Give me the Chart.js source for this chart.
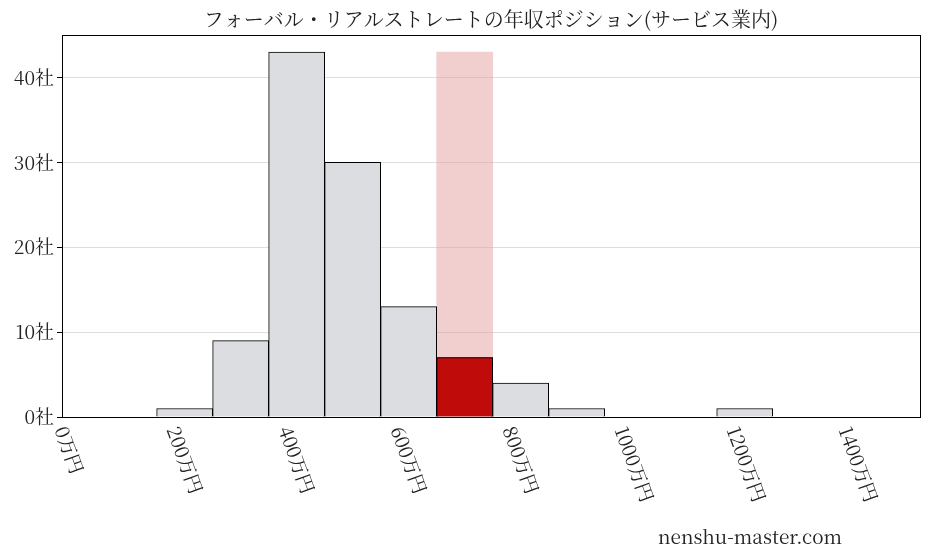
<!DOCTYPE html>
<html><head><meta charset="utf-8">
<script src="https://cdn.jsdelivr.net/npm/chart.js@4/dist/chart.umd.min.js"></script>
<style>body{margin:0;background:#fff}#w{width:927px;height:557px}</style>
</head><body><div id="w"><canvas id="c"></canvas></div>
<script>
const binCenters=[210,310,410,510,610,710,810,910,1010,1110,1210];
const counts=[1,9,43,30,13,7,4,1,0,0,1];
const highlightCenter=710, highlightValue=7, highlightMax=43;
const xTicks=[0,200,400,600,800,1000,1200,1400];
const yTicks=[0,10,20,30,40];
const title='フォーバル・リアルストレートの年収ポジション(サービス業内)';
const font='"Noto Serif CJK JP","Noto Sans CJK JP",serif';
const deco={id:'deco',afterDraw(ch){const c=ch.ctx,a=ch.chartArea,x=ch.scales.x;c.save();
c.strokeStyle='#000';c.lineWidth=1;c.strokeRect(a.left+0.5,a.top+0.5,a.right-a.left,a.bottom-a.top);
c.fillStyle='#222';c.font='20px '+font;c.textAlign='center';c.textBaseline='middle';c.fillText(title,491,19);
c.font='19px '+font;c.fillText('nenshu-master.com',750,537);
c.textAlign='left';
xTicks.forEach(v=>{const px=x.getPixelForValue(v);c.save();c.translate(px-6,a.bottom+10);c.rotate(70*Math.PI/180);c.fillText(v+'万円',0,0);c.restore();});
c.restore();}};
new Chart(document.getElementById('c'),{type:'bar',data:{datasets:[
{data:[{x:highlightCenter,y:highlightValue}],backgroundColor:'#c00b0b',borderColor:'#000',borderWidth:1,order:1},
{data:binCenters.map((x,i)=>({x,y:counts[i]})),backgroundColor:'#dcdde0',borderColor:'#000',borderWidth:1,order:2},
{data:[{x:highlightCenter,y:highlightMax}],backgroundColor:'rgba(230,160,160,0.5)',borderWidth:0,order:3}
]},options:{animation:false,responsive:true,maintainAspectRatio:false,
layout:{padding:{top:35,right:7,left:0,bottom:0}},
plugins:{legend:{display:false},title:{display:false},tooltip:{enabled:false}},
datasets:{bar:{grouped:false,barPercentage:1,categoryPercentage:1}},
scales:{x:{type:'linear',min:-9,max:1523,offset:false,grid:{display:false},border:{display:false},ticks:{display:false},afterFit(s){s.height=140;}},
y:{min:0,max:45,grid:{color:'#ddd',drawTicks:true,tickColor:'#000',tickLength:5},border:{display:false},
afterBuildTicks(s){s.ticks=yTicks.map(v=>({value:v}));},
ticks:{color:'#222',font:{size:19,family:font},padding:3,callback:v=>v+'社'},afterFit(s){s.width=62;}}}},
plugins:[deco]});
</script></body></html>
